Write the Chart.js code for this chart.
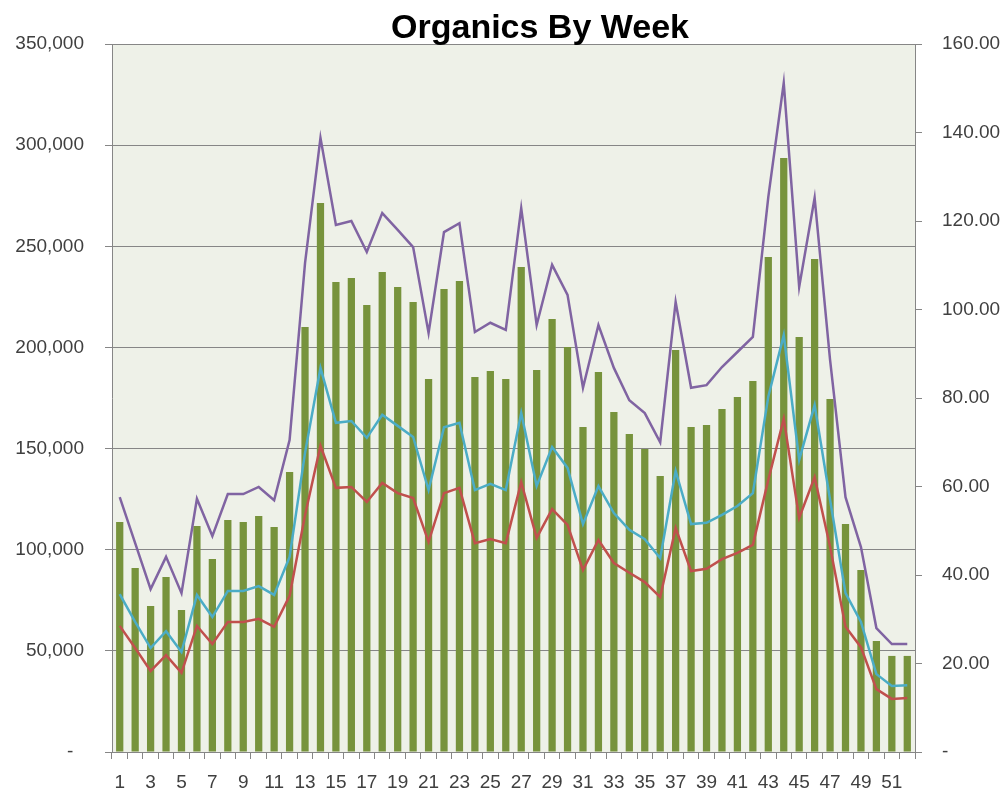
<!DOCTYPE html>
<html><head><meta charset="utf-8">
<script src="https://cdn.jsdelivr.net/npm/chart.js@4/dist/chart.umd.min.js"></script>
<style>html,body{margin:0;padding:0;background:#fff;}#wrap{width:1005px;height:791px;}</style>
</head><body><div id="wrap"><canvas id="c" width="1005" height="791"></canvas></div>
<script>
const titleText = 'Organics By Week';
const weeks = ['1','2','3','4','5','6','7','8','9','10','11','12','13','14','15','16','17','18','19','20','21','22','23','24','25','26','27','28','29','30','31','32','33','34','35','36','37','38','39','40','41','42','43','44','45','46','47','48','49','50','51','52'];
const organics = [113700, 91000, 72200, 86500, 70200, 111700, 95400, 114700, 113700, 116700, 111200, 138400, 210100, 271400, 232300, 234300, 221000, 237300, 229900, 222500, 184400, 228900, 232800, 185400, 188300, 184400, 239800, 188800, 214100, 200200, 160700, 187900, 168100, 157200, 149800, 136400, 198700, 160700, 161700, 169600, 175500, 183400, 244700, 293600, 205200, 243700, 174500, 112700, 90000, 54900, 47500, 47500];
const purpleSeries = [57.6, 47.2, 36.8, 44.1, 35.9, 57.2, 48.8, 58.3, 58.3, 59.9, 56.9, 70.5, 110.5, 138.8, 119.1, 120.0, 113.0, 121.8, 118.0, 114.1, 94.7, 117.5, 119.5, 94.9, 97.0, 95.4, 122.9, 96.5, 110.1, 103.3, 82.3, 96.5, 86.8, 79.5, 76.6, 70.0, 101.7, 82.3, 82.9, 87.0, 90.4, 93.8, 125.4, 151.2, 105.1, 125.2, 88.6, 57.6, 46.3, 28.0, 24.4, 24.4];
const blueSeries = [35.7, 29.4, 23.5, 27.3, 22.6, 35.5, 30.5, 36.4, 36.4, 37.5, 35.5, 44.1, 67.6, 86.8, 74.4, 74.8, 71.0, 76.2, 73.7, 71.2, 59.2, 73.4, 74.4, 59.2, 60.6, 59.2, 76.6, 60.1, 68.9, 64.2, 51.5, 60.1, 54.0, 50.2, 48.1, 43.8, 63.5, 51.5, 51.8, 53.6, 55.6, 58.5, 80.3, 94.2, 66.0, 78.4, 57.0, 35.9, 29.4, 17.6, 14.9, 15.1];
const redSeries = [28.5, 23.5, 18.3, 21.9, 17.9, 28.5, 24.4, 29.4, 29.4, 30.1, 28.3, 35.3, 53.5, 69.2, 59.7, 59.9, 56.5, 60.8, 58.5, 57.4, 47.5, 58.5, 59.7, 47.2, 48.1, 47.2, 61.0, 48.4, 54.9, 51.3, 41.1, 47.9, 42.7, 40.5, 38.4, 35.0, 50.6, 40.9, 41.4, 43.6, 45.0, 46.8, 61.5, 75.3, 52.9, 62.1, 46.4, 28.3, 23.7, 14.2, 12.0, 12.2];
const leftMax = 350000, leftStep = 50000;
const rightMax = 160, rightStep = 20;

const FONT = '"Liberation Sans", Arial, sans-serif';
const GRID = '#868686';
const TICKC = '#404040';

const bgPlugin = {
  id: 'bg',
  beforeDraw(chart) {
    const {ctx, chartArea: a} = chart;
    ctx.save();
    ctx.fillStyle = '#ffffff';
    ctx.fillRect(0, 0, chart.width, chart.height);
    ctx.fillStyle = '#EEF1E8';
    ctx.fillRect(a.left, a.top, a.right - a.left, a.bottom - a.top);
    ctx.restore();
  }
};
const titlePlugin = {
  id: 'ttl',
  afterDraw(chart) {
    const ctx = chart.ctx;
    ctx.save();
    ctx.font = 'bold 34px ' + FONT;
    ctx.fillStyle = '#000';
    ctx.textAlign = 'center';
    ctx.textBaseline = 'alphabetic';
    ctx.fillText(titleText, 540, 38);
    ctx.restore();
  }
};

const lineDs = (label, data, color, order) => ({
  type: 'line', label, data, yAxisID: 'y1', borderColor: color, backgroundColor: color,
  borderWidth: 2.5, pointRadius: 0, tension: 0, fill: false, order
});

new Chart(document.getElementById('c'), {
  type: 'bar',
  data: {
    labels: weeks,
    datasets: [
      lineDs('Purple', purpleSeries, '#8064A2', 1),
      lineDs('Blue', blueSeries, '#4BACC6', 2),
      lineDs('Red', redSeries, '#C0504D', 3),
      { type: 'bar', label: 'Organics', data: organics, yAxisID: 'y', backgroundColor: '#77933C',
        barPercentage: 0.47, categoryPercentage: 1.0, order: 10 }
    ]
  },
  options: {
    responsive: false, animation: false, devicePixelRatio: 1,
    layout: { padding: { top: 44, left: 0, right: 0, bottom: 0 } },
    plugins: { legend: { display: false }, title: { display: false }, tooltip: { enabled: false } },
    scales: {
      x: {
        grid: { offset: true, drawOnChartArea: false, drawTicks: true, tickLength: 7, color: GRID },
        border: { color: GRID, width: 1 },
        ticks: {
          autoSkip: false, maxRotation: 0, minRotation: 0, padding: 12, color: TICKC,
          font: { family: FONT, size: 19 },
          callback: function (v, i) { return i % 2 === 0 ? this.getLabelForValue(v) : ''; }
        },
        afterFit(s) { s.height = 39; }
      },
      y: {
        position: 'left', min: 0, max: leftMax,
        grid: { color: GRID, tickLength: 7 },
        border: { color: GRID, width: 1 },
        ticks: {
          stepSize: leftStep, padding: 21, color: TICKC, font: { family: FONT, size: 19 },
          callback: v => v === 0 ? '-  ' : v.toLocaleString('en-US')
        },
        afterFit(s) { s.width = 112; }
      },
      y1: {
        position: 'right', min: 0, max: rightMax,
        grid: { drawOnChartArea: false, tickLength: 7, color: GRID },
        border: { color: GRID, width: 1 },
        ticks: {
          stepSize: rightStep, padding: 20, color: TICKC, font: { family: FONT, size: 19 },
          callback: v => v === 0 ? '-' : v.toFixed(2)
        },
        afterFit(s) { s.width = 90; }
      }
    }
  },
  plugins: [bgPlugin, titlePlugin]
});
</script></body></html>
